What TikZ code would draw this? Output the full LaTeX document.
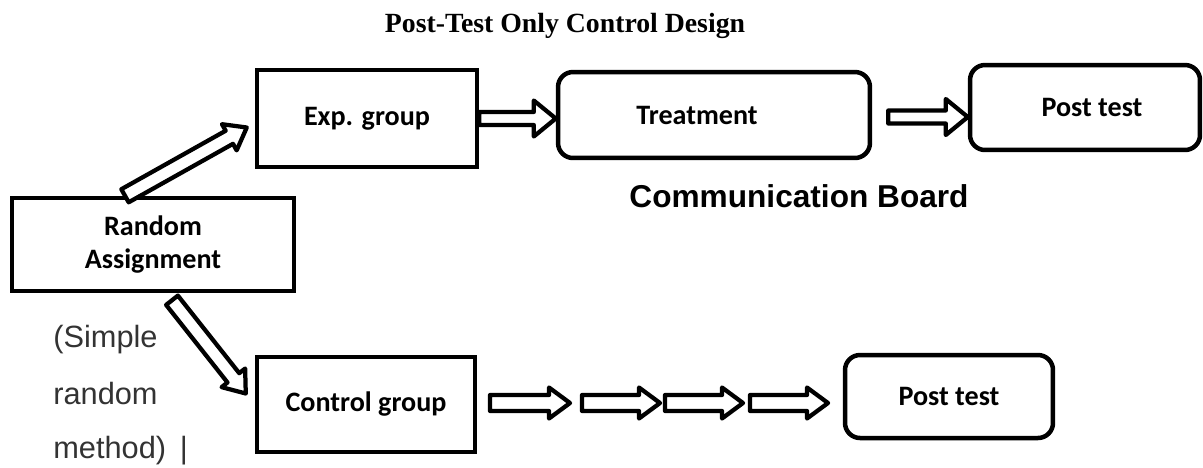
\documentclass[tikz,border=0pt]{standalone}
\usepackage{fontspec}
\setmainfont{Liberation Serif}
\newfontfamily\calibri{Carlito}
\newfontfamily\arial{Liberation Sans}
\usetikzlibrary{calc}

% hollow block arrow: tail, tip, shaft half width, head half width, head length
\newcommand{\hollowarrow}[5]{%
\path ($(#2)!#5!(#1)$) coordinate (hb);
\draw[arrowline] ($(#1)!#3!90:(#2)$) -- ($(hb)!#3!90:(#2)$) -- ($(hb)!#4!90:(#2)$)
  -- (#2) -- ($(hb)!#4!-90:(#2)$) -- ($(hb)!#3!-90:(#2)$) -- ($(#1)!#3!-90:(#2)$) -- cycle;
}

\tikzset{
box/.style={draw, line width=0.09cm, inner sep=0pt, align=center,
  font=\calibri\bfseries\fontsize{16}{19}\selectfont},
roundbox/.style={box, rounded corners=0.3cm},
arrowline/.style={draw, fill=white, line width=0.085cm, line join=round},
note/.style={anchor=base west, inner sep=0pt, text=black!80,
  font=\arial\fontsize{17.5}{20}\selectfont},
}

\begin{document}
\begin{tikzpicture}[x=0.02cm, y=-0.02cm]
\useasboundingbox (0,0) rectangle (1203,467);

\node (title) at (565,26) {\bfseries\fontsize{15.8}{18}\selectfont Post-Test Only Control Design};

% boxes
\node[box, minimum width=5.64cm, minimum height=1.86cm] (ra) at (153,244.5) {Random\\Assignment};
\node[box, minimum width=4.4cm, minimum height=1.94cm] (exp) at (367,118.5) {Exp. group};
\node[roundbox, minimum width=6.24cm, minimum height=1.72cm] (treat) at (714,115) {Treatment\hspace{0.68cm}};
\node[roundbox, minimum width=4.6cm, minimum height=1.7cm] (post1) at (1085,107.5) {\hspace{0.28cm}Post test};
\node[box, minimum width=4.36cm, minimum height=1.9cm] (ctrl) at (366,404.5) {Control group};
\node[roundbox, minimum width=4.16cm, minimum height=1.66cm] (post2) at (949,396.5) {Post test};

\node (board) at (799,196) {\arial\bfseries\fontsize{18}{21}\selectfont Communication Board};

\node[note] (s1) at (53,347) {(Simple};
\node[note] (s2) at (53,404) {random};
\node[note] (s3) at (53,458) {method) \,|};

% arrows
\coordinate (up0) at ($(ra.north)+(-28,0)$);
\coordinate (up1) at ($(exp.west)+(-8,9)$);
\coordinate (dn0) at ($(ra.south)+(19,7)$);
\coordinate (dn1) at ($(ctrl.west)+(-9,-11)$);
\coordinate (t0) at ($(treat.east)+(16,2)$);
\coordinate (t1) at (post1.west |- t0);
\coordinate (e1) at (treat.west |- exp.east);

\hollowarrow{up0}{up1}{0.15cm}{0.3cm}{0.4cm}
\hollowarrow{exp.east}{e1}{0.13cm}{0.36cm}{0.44cm}
\hollowarrow{t0}{t1}{0.13cm}{0.36cm}{0.44cm}
\hollowarrow{dn0}{dn1}{0.15cm}{0.3cm}{0.4cm}

% chain of arrows in the lower row
\foreach \a/\b [count=\i] in {490/570, 582/660, 665/743, 750/828}{
  \coordinate (b\i a) at (\a,403);
  \coordinate (b\i b) at (\b,403);
  \hollowarrow{b\i a}{b\i b}{0.16cm}{0.31cm}{0.42cm}
}
\end{tikzpicture}
\end{document}
